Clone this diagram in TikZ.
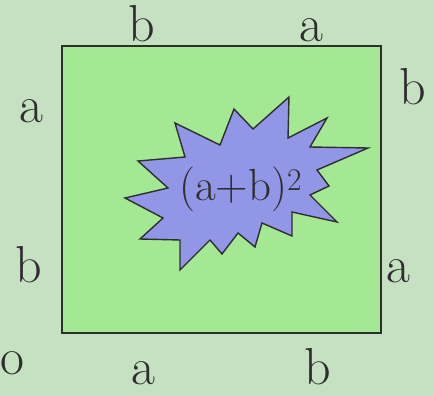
\documentclass[tikz,border=0pt]{standalone}
\usepackage{tikz}
\usetikzlibrary{positioning}
\definecolor{marblebg}{HTML}{C6E1C2}
\definecolor{squarefill}{HTML}{A5E893}
\definecolor{burstfill}{HTML}{9196E6}
\definecolor{inkdark}{HTML}{2E2E2E}

\begin{document}
\begin{tikzpicture}[x=1pt, y=-1pt,
    side/.style={anchor=base, inner sep=0pt, text=inkdark, font=\rmfamily\fontsize{52}{60}\selectfont},
    burst/.style={fill=burstfill, draw=inkdark, line width=1.4pt, line join=miter}]
    \fill[marblebg] (0,0) rectangle (434,396);
    \useasboundingbox (0,0) rectangle (434,396);

    % the square
    \draw[fill=squarefill, draw=inkdark, line width=2pt] (62,46) rectangle (381,333);

    % side lengths
    \foreach \lx/\ly/\lt [count=\i] in {142/42/b, 311/42/a, 31/122/a, 29/282/b,
        413/105/b, 398/282/a, 143/384/a, 318/384/b, 12/374/o} {
        \node[side] (side\i) at (\lx,\ly) {\lt};
    }

    % the burst
    \draw[burst] (175,123) -- (220,145) -- (234,109) -- (253,129) -- (289,97)
        -- (288,138) -- (327,118) -- (310,147) -- (368,148) -- (317,170)
        -- (329,186) -- (310,195) -- (337,222) -- (292,212) -- (292,236)
        -- (262,223) -- (255,247) -- (238,233) -- (222,254) -- (210,240)
        -- (180,270) -- (180,240) -- (140,239) -- (163,218) -- (125,198)
        -- (168,188) -- (138,161) -- (185,157) -- cycle;
    \node[anchor=base west, inner sep=0pt, text=inkdark, font=\rmfamily\fontsize{45}{54}\selectfont]
        (square) at (179,200) {(a+b)\textsuperscript{2}};
\end{tikzpicture}
\end{document}
